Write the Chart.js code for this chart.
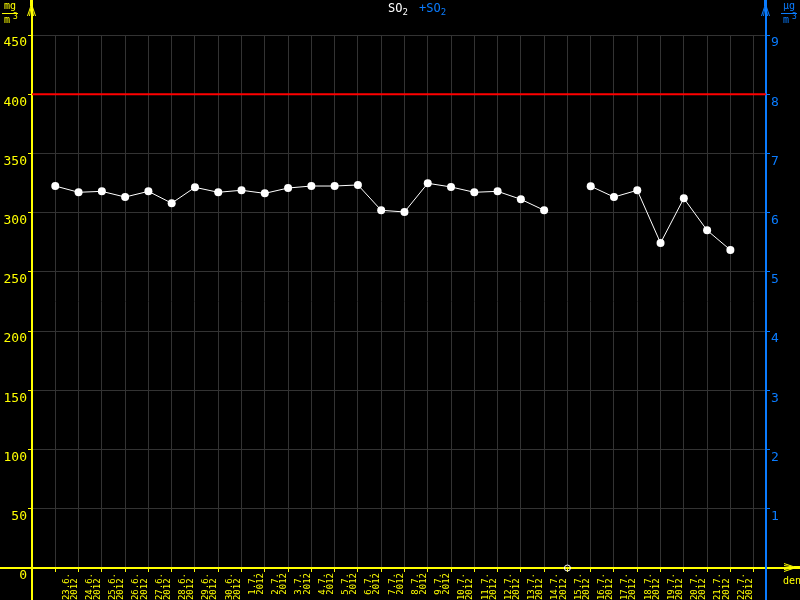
<!DOCTYPE html>
<html>
<head>
<meta charset="utf-8">
<script src="https://cdn.jsdelivr.net/npm/chart.js@4.4.1/dist/chart.umd.min.js"></script>
<style>
  html, body { margin: 0; padding: 0; background: #000; }
  canvas { display: block; background: #000; }
</style>
</head>
<body>
<canvas id="so2Chart" width="800" height="600"></canvas>
<script>
// --- data ---
const dates = ['23.6.', '24.6.', '25.6.', '26.6.', '27.6.', '28.6.', '29.6.', '30.6.',
  '1.7.', '2.7.', '3.7.', '4.7.', '5.7.', '6.7.', '7.7.', '8.7.', '9.7.', '10.7.',
  '11.7.', '12.7.', '13.7.', '14.7.', '15.7.', '16.7.', '17.7.', '18.7.', '19.7.',
  '20.7.', '21.7.', '22.7.'];
const year = '2012';
const so2 = [322.5, 317.2, 318, 313.2, 318, 308, 321.4, 317.2,
  318.9, 316.3, 320.8, 322.5, 322.5, 323.4, 302, 300.6, 324.8, 321.7,
  317.2, 318, 311.3, 302, null, 322.3, 313.2, 318.9, 274.4,
  312.1, 285.1, 268.5];
const limitValue = 400;
const leftTicks = [0, 50, 100, 150, 200, 250, 300, 350, 400, 450];
const rightTicks = [1, 2, 3, 4, 5, 6, 7, 8, 9];

const YELLOW = '#ffff00';
const BLUE = '#0a7cff';
const GRID = '#333333';
const MONO = 'DejaVu Sans Mono';
const X_MAX = 30.53;

// little arrow heads like the original plot
function arrowUp(ctx, x, color) {
  ctx.strokeStyle = color;
  ctx.fillStyle = color;
  ctx.lineWidth = 1;
  ctx.fillRect(x - 1, 0, 3, 6);
  [-4, -2, 2, 4].forEach(function(dx) {
    ctx.beginPath();
    ctx.moveTo(x + 0.5, 4);
    ctx.lineTo(x + 0.5 + dx, 16);
    ctx.stroke();
  });
}

function arrowRight(ctx, y, color) {
  ctx.strokeStyle = color;
  ctx.fillStyle = color;
  ctx.lineWidth = 1;
  ctx.fillRect(794, y - 1, 6, 3);
  [-4, -2, 2, 4].forEach(function(dy) {
    ctx.beginPath();
    ctx.moveTo(796, y + 0.5);
    ctx.lineTo(784, y + 0.5 + dy);
    ctx.stroke();
  });
}

function unitLabel(ctx, x, top, num, color) {
  ctx.fillStyle = color;
  ctx.strokeStyle = color;
  ctx.textBaseline = 'alphabetic';
  ctx.textAlign = 'left';
  ctx.font = '10px ' + MONO;
  ctx.fillText(num, x + 1, top + 7);
  ctx.lineWidth = 1;
  ctx.beginPath();
  ctx.moveTo(x - 1, top + 11.5);
  ctx.lineTo(x + 15, top + 11.5);
  ctx.stroke();
  ctx.fillText('m', x + 1, top + 21);
  ctx.font = '8px ' + MONO;
  ctx.fillText('3', x + 10, top + 17);
}

const decorPlugin = {
  id: 'decor',
  beforeDatasetsDraw(chart) {
    const ctx = chart.ctx;
    const a = chart.chartArea;
    ctx.save();
    ctx.lineWidth = 2;
    // bottom axis
    ctx.strokeStyle = YELLOW;
    ctx.beginPath();
    ctx.moveTo(0, a.bottom);
    ctx.lineTo(796, a.bottom);
    ctx.stroke();
    // left axis
    ctx.beginPath();
    ctx.moveTo(a.left, 4);
    ctx.lineTo(a.left, 600);
    ctx.stroke();
    // right axis
    ctx.strokeStyle = BLUE;
    ctx.beginPath();
    ctx.moveTo(a.right, 4);
    ctx.lineTo(a.right, 600);
    ctx.stroke();
    arrowUp(ctx, Math.round(a.left) - 1, YELLOW);
    arrowUp(ctx, Math.round(a.right) - 1, BLUE);
    arrowRight(ctx, Math.round(a.bottom) - 1, YELLOW);
    ctx.restore();
  },
  afterDraw(chart) {
    const ctx = chart.ctx;
    ctx.save();
    // title: SO2 (white) +SO2 (blue)
    ctx.textBaseline = 'top';
    ctx.textAlign = 'left';
    let x = 388;
    ctx.font = '12px ' + MONO;
    ctx.fillStyle = '#ffffff';
    ctx.fillText('SO', x, 3);
    x += ctx.measureText('SO').width;
    ctx.font = '9px ' + MONO;
    ctx.fillText('2', x, 8);
    x = 419;
    ctx.font = '12px ' + MONO;
    ctx.fillStyle = BLUE;
    ctx.fillText('+SO', x, 3);
    x += ctx.measureText('+SO').width;
    ctx.font = '9px ' + MONO;
    ctx.fillText('2', x, 8);

    unitLabel(ctx, 3, 2, 'mg', YELLOW);
    unitLabel(ctx, 782, 2, 'µg', BLUE);

    ctx.fillStyle = YELLOW;
    ctx.font = '10px ' + MONO;
    ctx.textBaseline = 'alphabetic';
    ctx.fillText('den', 783, 584);
    ctx.restore();
  }
};

const points = so2.map(function(v, i) { return { x: i, y: v }; });
const missing = [];
so2.forEach(function(v, i) { if (v === null) missing.push({ x: i, y: 0 }); });

const ctx = document.getElementById('so2Chart').getContext('2d');
new Chart(ctx, {
  type: 'line',
  data: {
    datasets: [
      {
        label: 'limit',
        data: [{ x: -1, y: limitValue }, { x: X_MAX, y: limitValue }],
        borderColor: '#ff0000',
        borderWidth: 2,
        pointRadius: 0,
        yAxisID: 'y'
      },
      {
        label: 'SO2',
        data: points,
        borderColor: '#ffffff',
        borderWidth: 1,
        pointRadius: 4,
        pointBackgroundColor: '#ffffff',
        pointBorderColor: '#ffffff',
        pointBorderWidth: 0,
        spanGaps: false,
        tension: 0,
        yAxisID: 'y'
      },
      {
        label: 'missing',
        data: missing,
        showLine: false,
        pointRadius: 3,
        pointBackgroundColor: 'rgba(0,0,0,0)',
        pointBorderColor: '#ffffff',
        pointBorderWidth: 1,
        clip: false,
        yAxisID: 'y'
      }
    ]
  },
  options: {
    responsive: false,
    animation: false,
    devicePixelRatio: 1,
    layout: { padding: { top: 35, left: 0, right: 0, bottom: 0 } },
    plugins: {
      legend: { display: false },
      tooltip: { enabled: false }
    },
    scales: {
      x: {
        type: 'linear',
        min: -1,
        max: X_MAX,
        afterFit: function(s) { s.height = 32; },
        border: { display: false },
        grid: { color: GRID, tickColor: YELLOW, tickLength: 4, lineWidth: 1 },
        ticks: {
          stepSize: 1,
          autoSkip: false,
          minRotation: 90,
          maxRotation: 90,
          padding: 1,
          labelOffset: 11,
          color: YELLOW,
          font: { family: MONO, size: 9, lineHeight: 0.9 },
          callback: function(v) {
            const d = dates[v];
            if (!Number.isInteger(v) || d === undefined) return '';
            return [d, year + ' '.repeat(Math.max(0, d.length - year.length))];
          }
        }
      },
      y: {
        position: 'left',
        min: 0,
        max: 450,
        afterFit: function(s) { s.width = 32; },
        afterBuildTicks: function(s) { s.ticks = leftTicks.map(function(v) { return { value: v }; }); },
        border: { display: false },
        grid: { color: GRID, tickColor: YELLOW, tickLength: 4 },
        ticks: {
          padding: 1,
          labelOffset: 8,
          color: YELLOW,
          font: { family: MONO, size: 13 }
        }
      },
      y1: {
        position: 'right',
        min: 0,
        max: 9,
        afterFit: function(s) { s.width = 34; },
        afterBuildTicks: function(s) { s.ticks = rightTicks.map(function(v) { return { value: v }; }); },
        border: { display: false },
        grid: { drawOnChartArea: false, tickColor: BLUE, tickLength: 4 },
        ticks: {
          padding: 1,
          labelOffset: 8,
          color: BLUE,
          font: { family: MONO, size: 13 }
        }
      }
    }
  },
  plugins: [decorPlugin]
});
</script>
</body>
</html>
